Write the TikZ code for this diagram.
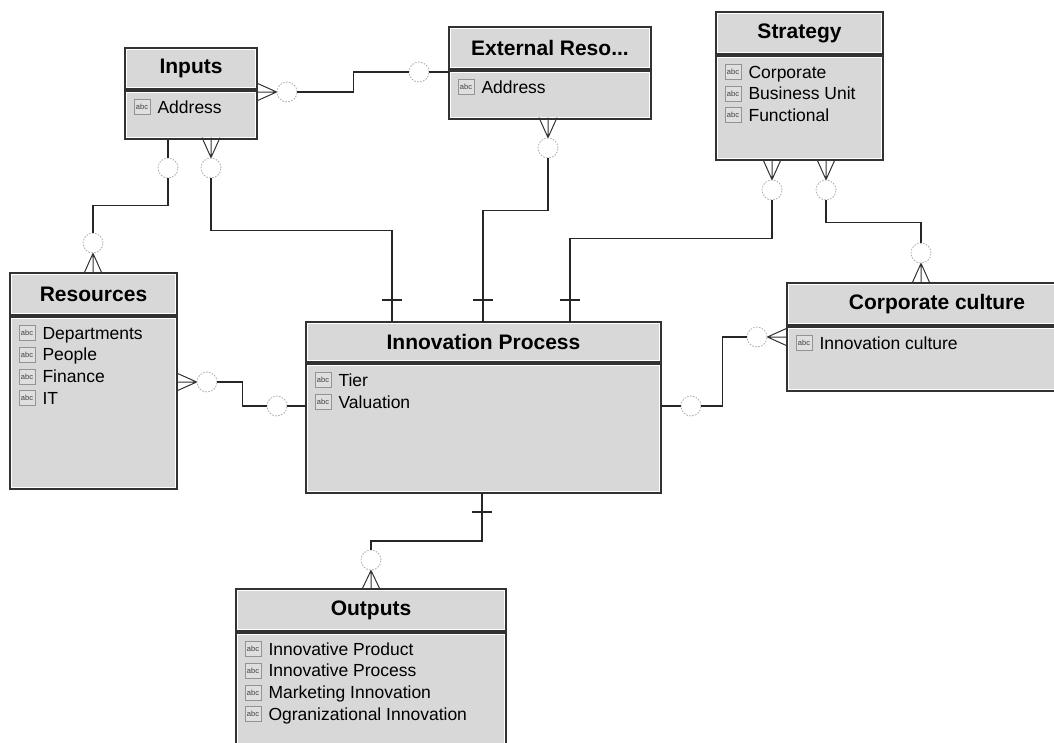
\documentclass[tikz,border=0pt]{standalone}
\usepackage{fontspec}
\setmainfont{Liberation Sans}
\usetikzlibrary{positioning}

\definecolor{boxfill}{RGB}{216,216,216}
\definecolor{boxline}{RGB}{50,50,50}

\newcommand{\hdrfont}{\fontsize{21}{24}\selectfont\bfseries}
\newcommand{\itemfont}{\fontsize{17.5}{20}\selectfont}
% attribute row: icon + text
\newcommand{\attr}[4]{%
  \node[ico] (#1i) at (#2,#3) {abc};
  \node[item] (#1) at ([xshift=7pt]#1i.east) {#4};}

\begin{document}
\begin{tikzpicture}[x=1pt, y=-1pt,
  box/.style={rectangle, draw=boxline, fill=boxfill, line width=1.6pt,
    inner sep=0pt, outer sep=0pt,
    path picture={\draw[white, line width=1.1pt]
      ([shift={(1.9pt,-1.9pt)}]path picture bounding box.north west) rectangle
      ([shift={(-1.9pt,1.9pt)}]path picture bounding box.south east);}},
  hdr/.style={box, font=\hdrfont, anchor=north west},
  ico/.style={rectangle, draw=gray!85, fill=gray!25, line width=0.7pt,
    minimum width=16pt, minimum height=15pt, inner sep=0pt,
    font=\fontsize{7.5}{7.5}\selectfont, text=gray!50!black},
  item/.style={anchor=west, inner sep=0pt, text height=12.5pt, text depth=0pt,
    font=\itemfont},
  opt/.style={circle, draw=gray!65, dash pattern=on 1.6pt off 1.4pt,
    line width=0.8pt, fill=white, minimum size=20pt, inner sep=0pt},
  link/.style={line width=1.6pt, black!85},
  crow/.style={line width=1pt, black!80},
  bar/.style={line width=1.6pt, black!85}]
  \useasboundingbox (0,0) rectangle (1054,742);
  \clip (0,0) rectangle (1054,742);

  % entities
  \node[hdr, minimum width=132, minimum height=41] (ipH) at (125,48) {Inputs};
  \node[box, minimum width=132, minimum height=48, below=2pt of ipH] (ipB) {};
  \attr{ipA1}{142}{107}{Address}

  \node[hdr, minimum width=202, minimum height=42] (exH) at (449,27) {External Reso...};
  \node[box, minimum width=202, minimum height=48, below=2pt of exH] (exB) {};
  \attr{exA1}{466}{87}{Address}

  \node[hdr, minimum width=167, minimum height=42] (stH) at (716,12) {Strategy};
  \node[box, minimum width=167, minimum height=104, below=2pt of stH] (stB) {};
  \attr{stA1}{733}{72}{Corporate}
  \attr{stA2}{733}{93.5}{Business Unit}
  \attr{stA3}{733}{115}{Functional}

  \node[hdr, minimum width=167, minimum height=42] (rsH) at (10,273) {Resources};
  \node[box, minimum width=167, minimum height=172, below=2pt of rsH] (rsB) {};
  \attr{rsA1}{27}{333}{Departments}
  \attr{rsA2}{27}{354.7}{People}
  \attr{rsA3}{27}{376.4}{Finance}
  \attr{rsA4}{27}{398}{IT}

  \node[hdr, minimum width=355, minimum height=40] (inH) at (306,322) {Innovation Process};
  \node[box, minimum width=355, minimum height=129, below=2pt of inH] (inB) {};
  \attr{inA1}{323}{380}{Tier}
  \attr{inA2}{323}{402}{Valuation}

  \node[hdr, minimum width=300, minimum height=42] (ccH) at (787,283) {Corporate culture};
  \node[box, minimum width=300, minimum height=64, below=2pt of ccH] (ccB) {};
  \attr{ccA1}{804}{343}{Innovation culture}

  \node[hdr, minimum width=270, minimum height=42] (otH) at (236,589) {Outputs};
  \node[box, minimum width=270, minimum height=150, below=2pt of otH] (otB) {};
  \attr{otA1}{253}{649}{Innovative Product}
  \attr{otA2}{253}{670.7}{Innovative Process}
  \attr{otA3}{253}{692.4}{Marketing Innovation}
  \attr{otA4}{253}{714}{Ogranizational Innovation}

  % optionality circles
  \node[opt] (cIE) at (287,92) {};
  \node[opt] (cEI) at (419,72) {};
  \node[opt] (cIR) at (168,168) {};
  \node[opt] (cRI) at (93,243) {};
  \node[opt] (cIP) at (211,168) {};
  \node[opt] (cXP) at (548,148) {};
  \node[opt] (cSP) at (772,190) {};
  \node[opt] (cSC) at (826,190) {};
  \node[opt] (cCS) at (921,253) {};
  \node[opt] (cCI) at (757,337) {};
  \node[opt] (cIC) at (691,406) {};
  \node[opt] (cRP) at (207,382) {};
  \node[opt] (cPR) at (277,406) {};
  \node[opt] (cOI) at (371,560) {};

  \coordinate (inT1) at (392,322);
  \coordinate (inT2) at (483,322);
  \coordinate (inT3) at (570,322);
  \coordinate (inD1) at (482,493);

  % Inputs -- External
  \draw[crow] (cIE.west) -- ++(-20,-9) (cIE.west) -- ++(-20,0) (cIE.west) -- ++(-20,9);
  \draw[link] (cIE.east) -- ++(56,0) |- (cEI.west);
  \draw[link] (cEI.east) -- (cEI.east -| exB.west);

  % Inputs -- Resources
  \draw[link] (cIR.north) -- (cIR.north |- ipB.south);
  \draw[link] (cIR.south) -- ++(0,27) -| (cRI.north);
  \draw[crow] (cRI.south) -- ++(-9,20) (cRI.south) -- ++(0,20) (cRI.south) -- ++(9,20);

  % Inputs -- Innovation Process
  \draw[crow] (cIP.north) -- ++(-9,-20) (cIP.north) -- ++(0,-20) (cIP.north) -- ++(9,-20);
  \draw[link] (cIP.south) -- ++(0,52) -| (inT1);
  \draw[bar] ([yshift=22pt]inT1) +(-10,0) -- +(10,0);

  % External -- Innovation Process
  \draw[crow] (cXP.north) -- ++(-9,-20) (cXP.north) -- ++(0,-20) (cXP.north) -- ++(9,-20);
  \draw[link] (cXP.south) -- ++(0,52) -| (inT2);
  \draw[bar] ([yshift=22pt]inT2) +(-10,0) -- +(10,0);

  % Strategy -- Innovation Process
  \draw[crow] (cSP.north) -- ++(-9,-20) (cSP.north) -- ++(0,-20) (cSP.north) -- ++(9,-20);
  \draw[link] (cSP.south) -- ++(0,38) -| (inT3);
  \draw[bar] ([yshift=22pt]inT3) +(-10,0) -- +(10,0);

  % Strategy -- Corporate culture
  \draw[crow] (cSC.north) -- ++(-9,-20) (cSC.north) -- ++(0,-20) (cSC.north) -- ++(9,-20);
  \draw[link] (cSC.south) -- ++(0,22) -| (cCS.north);
  \draw[crow] (cCS.south) -- ++(-9,20) (cCS.south) -- ++(0,20) (cCS.south) -- ++(9,20);

  % Corporate culture -- Innovation Process
  \draw[crow] (cCI.east) -- ++(20,-9) (cCI.east) -- ++(20,0) (cCI.east) -- ++(20,9);
  \draw[link] (cCI.west) -- ++(-24,0) |- (cIC.east);
  \draw[link] (cIC.west) -- (cIC.west -| inB.east);

  % Resources -- Innovation Process
  \draw[crow] (cRP.west) -- ++(-20,-9) (cRP.west) -- ++(-20,0) (cRP.west) -- ++(-20,9);
  \draw[link] (cRP.east) -- ++(25,0) |- (cPR.west);
  \draw[link] (cPR.east) -- (cPR.east -| inB.west);

  % Innovation Process -- Outputs
  \draw[link] (inD1) -- ++(0,48) -| (cOI.north);
  \draw[bar] ([yshift=-19pt]inD1) +(-10,0) -- +(10,0);
  \draw[crow] (cOI.south) -- ++(-9,19) (cOI.south) -- ++(0,19) (cOI.south) -- ++(9,19);
\end{tikzpicture}
\end{document}
